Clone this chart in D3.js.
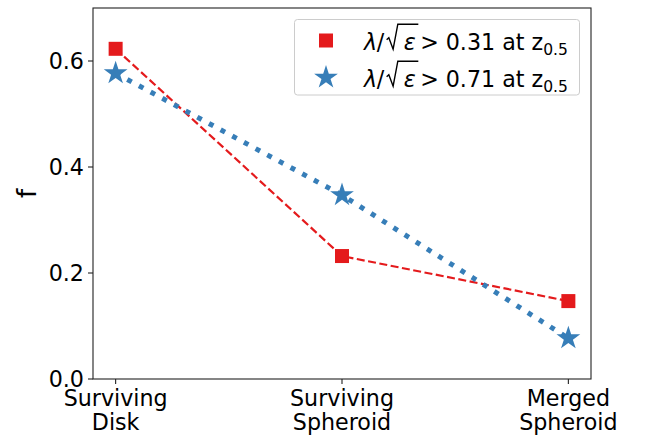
<!DOCTYPE html>
<html><head><meta charset="utf-8">
<script src="https://cdn.jsdelivr.net/npm/d3@7"></script>
<style>body{margin:0;background:#fff}svg{display:block}text{font-family:"DejaVu Sans",sans-serif}</style>
</head><body><div id="chart"></div>
<script>
const categories = ["Surviving\nDisk", "Surviving\nSpheroid", "Merged\nSpheroid"];
const redValues = [0.623, 0.232, 0.147];
const blueValues = [0.577, 0.347, 0.077];
const yTicks = [0.0, 0.2, 0.4, 0.6];
const legendThresholds = ["0.31", "0.71"];

const W = 649, H = 435;
const m = {left: 93, right: 591, top: 8, bottom: 379};
const red = "#e41a1c", blue = "#377eb8";
const FS = 22.2;

const svg = d3.select("#chart").append("svg").attr("width", W).attr("height", H);

const x = d3.scaleLinear().domain([-0.1, 2.1]).range([m.left, m.right]);
const y = d3.scaleLinear().domain([0, 0.7]).range([m.bottom, m.top]);

// lines
const line = d3.line().x((d, i) => x(i)).y(d => y(d));
svg.append("path").datum(redValues).attr("d", line).attr("fill", "none")
  .attr("stroke", red).attr("stroke-width", 2.2).attr("stroke-dasharray", "8,3.5");
svg.append("path").datum(blueValues).attr("d", line).attr("fill", "none")
  .attr("stroke", blue).attr("stroke-width", 5).attr("stroke-dasharray", "5,8.25");

// markers
const sq = 14;
svg.selectAll("rect.red").data(redValues).join("rect")
  .attr("x", (d, i) => x(i) - sq / 2).attr("y", d => y(d) - sq / 2)
  .attr("width", sq).attr("height", sq).attr("fill", red);
const star = d3.symbol().type(d3.symbolStar).size(175);
svg.selectAll("path.star").data(blueValues).join("path")
  .attr("d", star).attr("transform", (d, i) => `translate(${x(i)},${y(d)})`).attr("fill", blue);

// axes frame
svg.append("rect").attr("x", m.left).attr("y", m.top).attr("width", m.right - m.left)
  .attr("height", m.bottom - m.top).attr("fill", "none").attr("stroke", "#222").attr("stroke-width", 1.1);

// y ticks
const yt = svg.append("g");
yTicks.forEach(v => {
  yt.append("line").attr("x1", m.left - 5).attr("x2", m.left).attr("y1", y(v)).attr("y2", y(v))
    .attr("stroke", "#222").attr("stroke-width", 1.1);
  yt.append("text").attr("x", m.left - 9).attr("y", y(v)).attr("dy", "0.36em")
    .attr("text-anchor", "end").attr("font-size", FS).attr("fill", "#000").text(v.toFixed(1));
});
// x ticks
categories.forEach((c, i) => {
  svg.append("line").attr("x1", x(i)).attr("x2", x(i)).attr("y1", m.bottom).attr("y2", m.bottom + 5)
    .attr("stroke", "#222").attr("stroke-width", 1.1);
  const t = svg.append("text").attr("text-anchor", "middle").attr("font-size", FS).attr("fill", "#000");
  c.split("\n").forEach((s, k) => {
    t.append("tspan").attr("x", x(i)).attr("y", 406 + k * 23.5).text(s);
  });
});
// y label
svg.append("text").attr("transform", `translate(36,${(m.top + m.bottom) / 2}) rotate(-90)`)
  .attr("text-anchor", "middle").attr("font-size", 26).text("f");

// legend
const lg = svg.append("g");
lg.append("rect").attr("x", 294.5).attr("y", 19.5).attr("width", 285).attr("height", 75.5).attr("rx", 3)
  .attr("fill", "#fff").attr("fill-opacity", 0.8).attr("stroke", "#ccc").attr("stroke-width", 1);
const rows = [{c: red, type: "sq", y: 40.5}, {c: blue, type: "star", y: 77.5}];
rows.forEach((r, k) => {
  if (r.type === "sq") {
    lg.append("rect").attr("x", 326 - 7).attr("y", r.y - 7).attr("width", 14).attr("height", 14).attr("fill", r.c);
  } else {
    lg.append("path").attr("d", star).attr("transform", `translate(326,${r.y})`).attr("fill", r.c);
  }
  const fs = 22.2;
  const base = r.y + 9.2;
  const put = (txt, xx, opts = {}) => {
    const el = lg.append("text").attr("x", xx).attr("y", base + (opts.dy || 0))
      .attr("font-size", opts.size || fs).attr("font-style", opts.it ? "italic" : "normal")
      .style("white-space", "pre").text(txt);
    return el.node().getComputedTextLength();
  };
  let cx = 364;
  cx += put("λ", cx, {it: true});
  cx += put("/", cx - 0.5);
  const x0 = cx + 2;
  const ex = x0 + 17;
  const ew = put("ε", ex, {it: true});
  const xe = ex + ew + 2.7;
  lg.append("path")
    .attr("d", `M${x0},${base - 10} L${x0 + 2.2},${base - 12} L${x0 + 6.5},${base - 0.5} L${x0 + 11.2},${base - 25.5} L${xe},${base - 25.5}`)
    .attr("fill", "none").attr("stroke", "#000").attr("stroke-width", 1.4).attr("stroke-linejoin", "miter");
  cx = ex + ew + 4.5;
  cx += put(">", cx);
  cx += 7;
  cx += put(legendThresholds[k] + " at z", cx);
  put("0.5", cx, {size: fs * 0.7, dy: 5.5});
});
</script></body></html>
